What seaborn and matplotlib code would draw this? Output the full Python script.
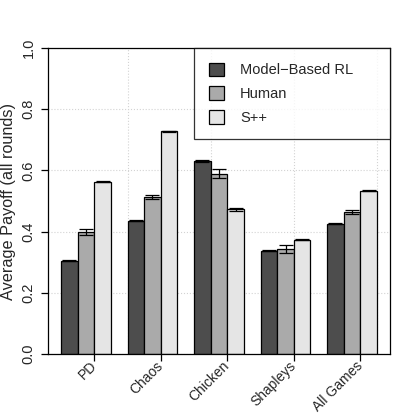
import matplotlib
matplotlib.use("Agg")
import matplotlib.pyplot as plt
import matplotlib.ticker as mticker
import numpy as np
import pandas as pd
import seaborn as sns

# values
games = ["PD", "Chaos", "Chicken", "Shapleys", "All Games"]
agents = ["Model\u2212Based RL", "Human", "S++"]
mbrl = [0.305, 0.436, 0.630, 0.337, 0.426]
human = [0.399, 0.512, 0.589, 0.343, 0.464]
spp = [0.563, 0.728, 0.473, 0.373, 0.534]
mbrl_err = [0.002, 0.002, 0.003, 0.002, 0.002]
human_err = [0.010, 0.007, 0.015, 0.012, 0.007]
spp_err = [0.002, 0.002, 0.005, 0.002, 0.002]
colors = ["#4d4d4d", "#aaaaaa", "#e5e5e5"]

df = pd.DataFrame({
    "game": games * 3,
    "agent": [a for a in agents for _ in games],
    "payoff": mbrl + human + spp,
    "err": mbrl_err + human_err + spp_err,
})

sns.set_style("white")
plt.rcParams["font.family"] = ["Liberation Sans", "DejaVu Sans"]
plt.rcParams["font.size"] = 10.5

fig = plt.figure(figsize=(4.15, 4.15), dpi=100)
ax = fig.add_axes([48 / 415, 61 / 415, 342 / 415, 306 / 415])

sns.barplot(data=df, x="game", y="payoff", hue="agent", order=games,
            hue_order=agents, palette=colors, width=0.75, edgecolor="black",
            linewidth=0.9, errorbar=None, legend=False, ax=ax)

# error bars on top of each bar
for cont, agent in zip(ax.containers, agents):
    sub = df[df.agent == agent].set_index("game").loc[games]
    xs = [p.get_x() + p.get_width() / 2 for p in cont.patches]
    ax.errorbar(xs, sub.payoff, yerr=sub.err, fmt="none", ecolor="black",
                elinewidth=0.9, capsize=4.8, capthick=0.9, zorder=5)

n = len(games)
ax.set_xlim(-0.57, n - 1 + 0.57)
ax.set_ylim(0, 1)

# R-style dotted grid (every 5 bar units)
for gx in [-0.375 + (5 * k - 1) * 0.25 for k in range(1, 5)]:
    ax.axvline(gx, color="#d3d3d3", ls=":", lw=0.8, zorder=0)
ax.yaxis.grid(True, color="#d3d3d3", ls=":", lw=0.8)
ax.set_axisbelow(True)

ax.set_xticks(np.arange(n) + 0.125)
ax.set_xticklabels(games, rotation=45, ha="right", va="center",
                   rotation_mode="anchor", fontsize=10)
ax.set_yticks(np.arange(0, 1.01, 0.2))
ax.yaxis.set_major_formatter(mticker.FormatStrFormatter("%.1f"))
for lab in ax.get_yticklabels():
    lab.set_rotation(90)
    lab.set_va("center")
ax.tick_params(axis="both", length=5, width=0.9, color="black",
               labelsize=10.5, direction="out", bottom=True, left=True)
ax.tick_params(axis="x", pad=2, labelsize=10)
ax.tick_params(axis="y", pad=4)

ax.set_xlabel("")
ax.set_ylabel("Average Payoff (all rounds)", fontsize=11.7, labelpad=4)

for s in ax.spines.values():
    s.set_visible(True)
    s.set_color("black")
    s.set_linewidth(0.9)

leg_x0 = (194 - 48) / 342
leg = ax.legend(ax.containers, agents, loc="upper left", mode="expand",
                bbox_to_anchor=(leg_x0, 0.0, 1.0 - leg_x0, 1.0),
                borderaxespad=0, fancybox=False, frameon=True,
                edgecolor="black", fontsize=10.5,
                handlelength=1.05, handleheight=1.05, handletextpad=1.1,
                labelspacing=0.62, borderpad=1.0)
leg.get_frame().set_linewidth(0.9)

fig.savefig("out.png", dpi=100)
